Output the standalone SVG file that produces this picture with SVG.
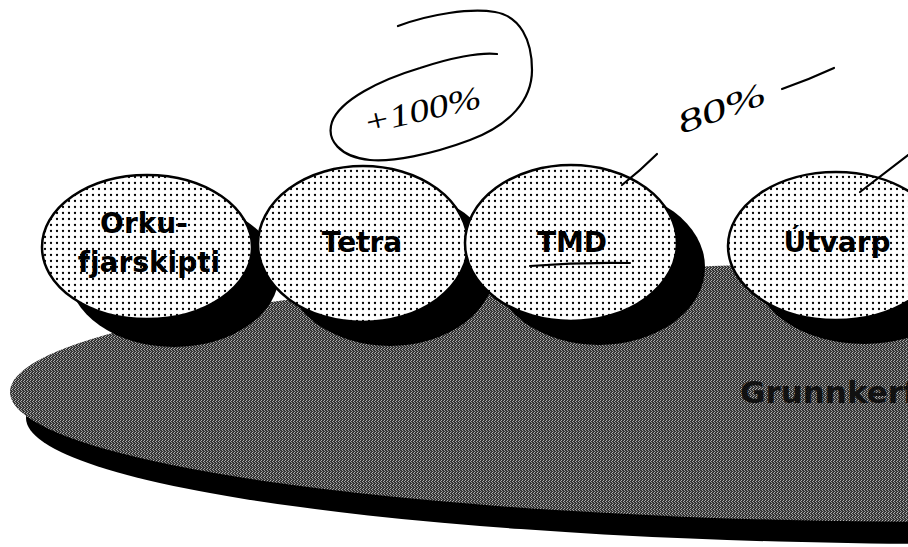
<svg xmlns="http://www.w3.org/2000/svg" width="908" height="547" viewBox="0 0 908 547">
  <defs>
    <pattern id="dots" width="6" height="6" patternUnits="userSpaceOnUse">
      <rect width="6" height="6" fill="#ffffff"/>
      <circle cx="3" cy="3" r="1.15" fill="#000000"/>
    </pattern>
    <pattern id="grain" width="3" height="4" patternUnits="userSpaceOnUse">
      <rect width="3" height="4" fill="#333333"/>
      <rect x="0" y="0" width="1" height="1" fill="#b4b4b4"/>
      <rect x="0" y="2" width="1" height="1" fill="#9a9a9a"/>
      <rect x="2" y="1" width="1" height="1" fill="#a8a8a8"/>
      <rect x="1" y="3" width="1" height="1" fill="#8a8a8a"/>
    </pattern>
  </defs>
  <style>
    .disk { fill: url(#dots); stroke: #000; stroke-width: 2.5; }
    .shadow { fill: #000; }
    .label { font-family: "DejaVu Sans", "Liberation Sans", sans-serif; font-weight: bold; font-size: 28px; fill: #000; text-anchor: middle; }
    .hand { fill: none; stroke: #000; stroke-width: 2.2; stroke-linecap: round; stroke-linejoin: round; }
    .handtext { font-family: "Liberation Serif", serif; font-style: italic; font-size: 32px; fill: #000; }
  </style>
  <rect width="908" height="547" fill="#ffffff"/>

  <g id="platform">
    <ellipse cx="962" cy="418" rx="936" ry="126" fill="#000"/>
    <ellipse cx="950" cy="392" rx="940" ry="130" fill="url(#grain)"/>
    <text x="740" y="403" font-family="DejaVu Sans, Liberation Sans, sans-serif" font-weight="bold" font-size="31" fill="#111111">Grunnkerfi</text>
  </g>

  <g id="shadows">
    <ellipse class="shadow" cx="174" cy="274" rx="105" ry="73"/>
    <ellipse class="shadow" cx="390" cy="268" rx="105" ry="78"/>
    <ellipse class="shadow" cx="599" cy="267" rx="106" ry="78"/>
    <ellipse class="shadow" cx="864" cy="270" rx="110" ry="74"/>
  </g>

  <g id="node-orkufjarskipti">
    <ellipse class="disk" cx="147" cy="247" rx="105" ry="72"/>
    <text class="label" x="144" y="233">Orku-</text>
    <text class="label" x="149" y="272">fjarskipti</text>
  </g>

  <g id="node-tetra">
    <ellipse class="disk" cx="363" cy="244" rx="105" ry="78"/>
    <text class="label" x="362" y="252">Tetra</text>
  </g>

  <g id="node-tmd">
    <ellipse class="disk" cx="571" cy="243" rx="106" ry="78"/>
    <text class="label" x="572" y="252">TMD</text>
  </g>

  <g id="node-utvarp">
    <ellipse class="disk" cx="836" cy="246" rx="108" ry="74"/>
    <text class="label" x="837" y="252">Útvarp</text>
  </g>

  <g id="connectors">
    <path class="hand" d="M 398,26 C 430,14 470,8 495,12 C 520,16 532,40 532,70 C 532,100 510,125 470,140 C 430,155 392,162 370,160 C 340,157 326,140 332,122 C 340,100 380,80 420,68 C 450,58 480,52 497,54"/>
    <path class="hand" d="M 657,154 Q 640,171 622,185"/>
    <path class="hand" d="M 782,89 Q 808,80 834,68"/>
    <path class="hand" d="M 912,152 L 860,192"/>
    <path class="hand" stroke-width="3.5" d="M 530,266 Q 580,262 630,263"/>
    <text class="handtext" x="366" y="134" textLength="120" lengthAdjust="spacingAndGlyphs" transform="rotate(-13 366 134)">+100%</text>
    <text class="handtext" x="682" y="134" textLength="92" lengthAdjust="spacingAndGlyphs" transform="rotate(-20 682 134)">80%</text>
  </g>
</svg>
